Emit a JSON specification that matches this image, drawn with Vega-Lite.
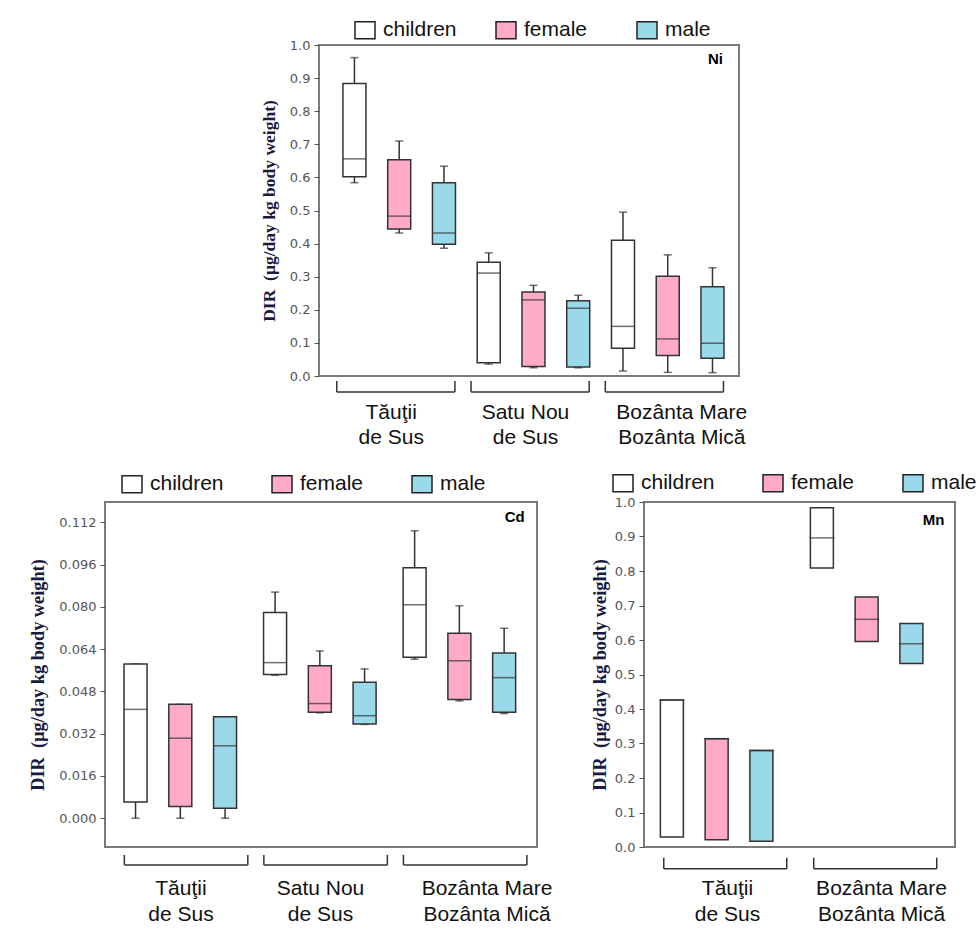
{
  "$schema": "https://vega.github.io/schema/vega-lite/v6.json",
  "background": "white",
  "padding": {"left": 27, "top": 18, "right": 0, "bottom": 0},
  "datasets": {
    "ni": [
      {"location": "Tăuţii\nde Sus", "group": "children", "min": 0.584, "q1": 0.602, "median": 0.656, "q3": 0.884, "max": 0.962},
      {"location": "Tăuţii\nde Sus", "group": "female", "min": 0.432, "q1": 0.444, "median": 0.483, "q3": 0.653, "max": 0.710},
      {"location": "Tăuţii\nde Sus", "group": "male", "min": 0.386, "q1": 0.398, "median": 0.432, "q3": 0.584, "max": 0.634},
      {"location": "Satu Nou\nde Sus", "group": "children", "min": 0.036, "q1": 0.040, "median": 0.311, "q3": 0.344, "max": 0.372},
      {"location": "Satu Nou\nde Sus", "group": "female", "min": 0.025, "q1": 0.029, "median": 0.230, "q3": 0.254, "max": 0.274},
      {"location": "Satu Nou\nde Sus", "group": "male", "min": 0.025, "q1": 0.027, "median": 0.205, "q3": 0.227, "max": 0.244},
      {"location": "Bozânta Mare\nBozânta Mică", "group": "children", "min": 0.015, "q1": 0.084, "median": 0.150, "q3": 0.410, "max": 0.495},
      {"location": "Bozânta Mare\nBozânta Mică", "group": "female", "min": 0.011, "q1": 0.062, "median": 0.112, "q3": 0.301, "max": 0.366},
      {"location": "Bozânta Mare\nBozânta Mică", "group": "male", "min": 0.010, "q1": 0.054, "median": 0.099, "q3": 0.270, "max": 0.327}
    ],
    "cd": [
      {"location": "Tăuţii\nde Sus", "group": "children", "min": 0.0, "q1": 0.0061, "median": 0.0412, "q3": 0.0584, "max": 0.0584},
      {"location": "Tăuţii\nde Sus", "group": "female", "min": 0.0, "q1": 0.0044, "median": 0.0303, "q3": 0.0431, "max": 0.0431},
      {"location": "Tăuţii\nde Sus", "group": "male", "min": 0.0, "q1": 0.0038, "median": 0.0274, "q3": 0.0384, "max": 0.0384},
      {"location": "Satu Nou\nde Sus", "group": "children", "min": 0.0541, "q1": 0.0544, "median": 0.0589, "q3": 0.0779, "max": 0.0856},
      {"location": "Satu Nou\nde Sus", "group": "female", "min": 0.0399, "q1": 0.0401, "median": 0.0434, "q3": 0.0577, "max": 0.0633},
      {"location": "Satu Nou\nde Sus", "group": "male", "min": 0.0355, "q1": 0.0357, "median": 0.0388, "q3": 0.0515, "max": 0.0565},
      {"location": "Bozânta Mare\nBozânta Mică", "group": "children", "min": 0.0602, "q1": 0.0609, "median": 0.0808, "q3": 0.0948, "max": 0.1088},
      {"location": "Bozânta Mare\nBozânta Mică", "group": "female", "min": 0.0444, "q1": 0.0449, "median": 0.0596, "q3": 0.0700, "max": 0.0804},
      {"location": "Bozânta Mare\nBozânta Mică", "group": "male", "min": 0.0396, "q1": 0.0401, "median": 0.0532, "q3": 0.0625, "max": 0.0719}
    ],
    "mn": [
      {"location": "Tăuţii\nde Sus", "group": "children", "min": 0.029, "q1": 0.029, "median": 0.426, "q3": 0.426, "max": 0.426},
      {"location": "Tăuţii\nde Sus", "group": "female", "min": 0.021, "q1": 0.021, "median": 0.314, "q3": 0.314, "max": 0.314},
      {"location": "Tăuţii\nde Sus", "group": "male", "min": 0.017, "q1": 0.017, "median": 0.280, "q3": 0.280, "max": 0.280},
      {"location": "Bozânta Mare\nBozânta Mică", "group": "children", "min": 0.809, "q1": 0.809, "median": 0.896, "q3": 0.983, "max": 0.983},
      {"location": "Bozânta Mare\nBozânta Mică", "group": "female", "min": 0.596, "q1": 0.596, "median": 0.660, "q3": 0.725, "max": 0.725},
      {"location": "Bozânta Mare\nBozânta Mică", "group": "male", "min": 0.532, "q1": 0.532, "median": 0.589, "q3": 0.648, "max": 0.648}
    ],
    "locs3": [
      {"location": "Tăuţii\nde Sus"},
      {"location": "Satu Nou\nde Sus"},
      {"location": "Bozânta Mare\nBozânta Mică"}
    ],
    "locs2": [
      {"location": "Tăuţii\nde Sus"},
      {"location": "Bozânta Mare\nBozânta Mică"}
    ],
    "tagNi": [{"name": "Ni"}],
    "tagCd": [{"name": "Cd"}],
    "tagMn": [{"name": "Mn"}]
  },
  "config": {
    "view": {"stroke": "#7a7a7a", "strokeWidth": 2},
    "axis": {
      "labelFont": "DejaVu Sans", "labelFontSize": 13, "labelColor": "#555", "labelOverlap": false,
      "tickColor": "#555", "tickSize": 5, "labelPadding": 4, "grid": false,
      "titleFont": "Liberation Serif", "titleFontWeight": "bold", "titleFontSize": 17.5, "titleColor": "#1a1a40"
    },
    "axisY": {"labelOverlap": false, "labelSeparation": 0},
    "axisQuantitative": {"labelOverlap": false},
    "legend": {"rowPadding": 0}
  },
  "spacing": 23,
  "resolve": {"scale": {"color": "independent"}, "legend": {"color": "independent"}},
  "vconcat": [
    {
      "spacing": 0,
      "resolve": {"scale": {"color": "independent"}, "legend": {"color": "independent"}},
      "hconcat": [
        {
          "width": 154, "height": 10,
          "view": {"stroke": null},
          "data": {"values": []},
          "mark": {"type": "point", "opacity": 0},
          "encoding": {}
        },
        {
          "width": 420, "height": 331,
          "encoding": {
            "x": {"field": "location", "type": "nominal", "sort": null,
              "scale": {"domain": ["Tăuţii\nde Sus", "Satu Nou\nde Sus", "Bozânta Mare\nBozânta Mică"], "paddingInner": 0, "paddingOuter": 0.064, "align": 0.76},
              "axis": {"title": null, "domain": false, "ticks": false, "tickSize": 0, "labelAngle": 0, "labelPadding": 25, "labelBaseline": "top", "labelFont": "Liberation Sans", "labelFontSize": 21, "labelColor": "#111", "labelLineHeight": 25, "labelOverlap": false, "labelExpr": "split(datum.label, '\\n')",
                "labelOffset": {"condition": {"test": "indexof(datum.value, 'Boz') === 0", "value": 14}, "value": -8}}}
          },
          "layer": [
            {
              "data": {"name": "ni"},
              "mark": {"type": "rule", "stroke": "#333", "strokeWidth": 1.5},
              "encoding": {
                "xOffset": {"field": "group", "type": "nominal", "scale": {"domain": ["children", "female", "male"], "paddingInner": 0.486, "paddingOuter": 0.243}},
                "y": {"field": "min", "type": "quantitative", "scale": {"domain": [0, 1], "nice": false, "zero": false},
                  "axis": {"title": "DIR\u00a0\u00a0(µg/day kg body weight)", "domain": false, "labelOverlap": false, "values": [0, 0.1, 0.2, 0.3, 0.4, 0.5, 0.6, 0.7, 0.8, 0.9, 1.0], "format": ".1f", "titlePadding": 11}},
                "y2": {"field": "max"}
              }
            },
            {
              "data": {"name": "ni"},
              "mark": {"type": "tick", "color": "#333", "thickness": 1.5, "size": 8},
              "encoding": {
                "xOffset": {"field": "group", "type": "nominal"},
                "y": {"field": "max", "type": "quantitative", "scale": {"domain": [0, 1], "nice": false, "zero": false},
                  "axis": {"title": "DIR\u00a0\u00a0(µg/day kg body weight)", "domain": false, "labelOverlap": false, "values": [0, 0.1, 0.2, 0.3, 0.4, 0.5, 0.6, 0.7, 0.8, 0.9, 1.0], "format": ".1f", "titlePadding": 11}}
              }
            },
            {
              "data": {"name": "ni"},
              "mark": {"type": "tick", "color": "#333", "thickness": 1.5, "size": 8},
              "encoding": {
                "xOffset": {"field": "group", "type": "nominal"},
                "y": {"field": "min", "type": "quantitative", "scale": {"domain": [0, 1], "nice": false, "zero": false},
                  "axis": {"title": "DIR\u00a0\u00a0(µg/day kg body weight)", "domain": false, "labelOverlap": false, "values": [0, 0.1, 0.2, 0.3, 0.4, 0.5, 0.6, 0.7, 0.8, 0.9, 1.0], "format": ".1f", "titlePadding": 11}}
              }
            },
            {
              "data": {"name": "ni"},
              "mark": {"type": "bar", "stroke": "#333", "strokeWidth": 1.5},
              "encoding": {
                "xOffset": {"field": "group", "type": "nominal"},
                "y": {"field": "q1", "type": "quantitative", "scale": {"domain": [0, 1], "nice": false, "zero": false},
                  "axis": {"title": "DIR\u00a0\u00a0(µg/day kg body weight)", "domain": false, "labelOverlap": false, "values": [0, 0.1, 0.2, 0.3, 0.4, 0.5, 0.6, 0.7, 0.8, 0.9, 1.0], "format": ".1f", "titlePadding": 11}},
                "y2": {"field": "q3"},
                "color": {"field": "group", "type": "nominal",
                  "scale": {"domain": ["children", "female", "male"], "range": ["#ffffff", "#ffaac9", "#99d9ea"]},
                  "legend": {"orient": "none", "legendX": 35, "legendY": -26, "direction": "horizontal", "columns": 3, "title": null,
                    "symbolType": "M-1,-0.85H1V0.85H-1Z", "symbolSize": 400, "symbolStrokeColor": "#222", "symbolStrokeWidth": 1.5,
                    "labelFont": "Liberation Sans", "labelFontSize": 21, "labelColor": "#111", "labelOffset": 7, "columnPadding": 36, "gridAlign": "all"}}
              }
            },
            {
              "data": {"name": "ni"},
              "mark": {"type": "tick", "color": "#333", "thickness": 1.5, "size": 23},
              "encoding": {
                "xOffset": {"field": "group", "type": "nominal"},
                "y": {"field": "median", "type": "quantitative", "scale": {"domain": [0, 1], "nice": false, "zero": false},
                  "axis": {"title": "DIR\u00a0\u00a0(µg/day kg body weight)", "domain": false, "labelOverlap": false, "values": [0, 0.1, 0.2, 0.3, 0.4, 0.5, 0.6, 0.7, 0.8, 0.9, 1.0], "format": ".1f", "titlePadding": 11}}
              }
            },
            {
              "data": {"name": "locs3"},
              "mark": {"type": "rule", "stroke": "#333", "strokeWidth": 1.5},
              "encoding": {
                "x": {"field": "location", "type": "nominal", "bandPosition": 0.035},
                "x2": {"field": "location", "bandPosition": 0.915},
                "y": {"datum": -0.048, "type": "quantitative", "scale": {"domain": [0, 1], "nice": false, "zero": false},
                  "axis": {"title": "DIR\u00a0\u00a0(µg/day kg body weight)", "domain": false, "labelOverlap": false, "values": [0, 0.1, 0.2, 0.3, 0.4, 0.5, 0.6, 0.7, 0.8, 0.9, 1.0], "format": ".1f", "titlePadding": 11}}
              }
            },
            {
              "data": {"name": "locs3"},
              "mark": {"type": "rule", "stroke": "#333", "strokeWidth": 1.5},
              "encoding": {
                "x": {"field": "location", "type": "nominal", "bandPosition": 0.035},
                "y": {"datum": -0.015, "type": "quantitative", "scale": {"domain": [0, 1], "nice": false, "zero": false},
                  "axis": {"title": "DIR\u00a0\u00a0(µg/day kg body weight)", "domain": false, "labelOverlap": false, "values": [0, 0.1, 0.2, 0.3, 0.4, 0.5, 0.6, 0.7, 0.8, 0.9, 1.0], "format": ".1f", "titlePadding": 11}},
                "y2": {"datum": -0.048}
              }
            },
            {
              "data": {"name": "locs3"},
              "mark": {"type": "rule", "stroke": "#333", "strokeWidth": 1.5},
              "encoding": {
                "x": {"field": "location", "type": "nominal", "bandPosition": 0.915},
                "y": {"datum": -0.015, "type": "quantitative", "scale": {"domain": [0, 1], "nice": false, "zero": false},
                  "axis": {"title": "DIR\u00a0\u00a0(µg/day kg body weight)", "domain": false, "labelOverlap": false, "values": [0, 0.1, 0.2, 0.3, 0.4, 0.5, 0.6, 0.7, 0.8, 0.9, 1.0], "format": ".1f", "titlePadding": 11}},
                "y2": {"datum": -0.048}
              }
            },
            {
              "data": {"name": "tagNi"},
              "mark": {"type": "text", "align": "right", "baseline": "top", "font": "Liberation Sans", "fontWeight": "bold", "fontSize": 15, "color": "#000", "dx": -12},
              "encoding": {
                "x": {"datum": "Bozânta Mare\nBozânta Mică", "type": "nominal", "bandPosition": 1},
                "y": {"datum": 0.978, "type": "quantitative", "scale": {"domain": [0, 1], "nice": false, "zero": false},
                  "axis": {"title": "DIR\u00a0\u00a0(µg/day kg body weight)", "domain": false, "labelOverlap": false, "values": [0, 0.1, 0.2, 0.3, 0.4, 0.5, 0.6, 0.7, 0.8, 0.9, 1.0], "format": ".1f", "titlePadding": 11}},
                "text": {"field": "name"}
              }
            }
          ]
        }
      ]
    },
    {
      "spacing": 36,
      "resolve": {"scale": {"color": "independent"}, "legend": {"color": "independent"}},
      "hconcat": [
        {
          "width": 432, "height": 345,
          "encoding": {
            "x": {"field": "location", "type": "nominal", "sort": null,
              "scale": {"domain": ["Tăuţii\nde Sus", "Satu Nou\nde Sus", "Bozânta Mare\nBozânta Mică"], "paddingInner": 0, "paddingOuter": 0.048, "align": 0.61},
              "axis": {"title": null, "domain": false, "ticks": false, "tickSize": 0, "labelAngle": 0, "labelPadding": 30, "labelBaseline": "top", "labelFont": "Liberation Sans", "labelFontSize": 21, "labelColor": "#111", "labelLineHeight": 26, "labelOverlap": false, "labelExpr": "split(datum.label, '\\n')",
                "labelOffset": {"condition": {"test": "indexof(datum.value, 'Boz') === 0", "value": 25}, "value": -2}}}
          },
          "layer": [
            {
              "data": {"name": "cd"},
              "mark": {"type": "rule", "stroke": "#333", "strokeWidth": 1.5},
              "encoding": {
                "xOffset": {"field": "group", "type": "nominal", "scale": {"domain": ["children", "female", "male"], "paddingInner": 0.495, "paddingOuter": 0.2475}},
                "y": {"field": "min", "type": "quantitative", "scale": {"domain": [-0.0109, 0.1197], "nice": false, "zero": false},
                  "axis": {"title": "DIR\u00a0\u00a0(µg/day kg body weight)", "titleFontSize": 18.3, "domain": false, "labelOverlap": false, "values": [0, 0.016, 0.032, 0.048, 0.064, 0.08, 0.096, 0.112], "format": ".3f", "titlePadding": 11}},
                "y2": {"field": "max"}
              }
            },
            {
              "data": {"name": "cd"},
              "mark": {"type": "tick", "color": "#333", "thickness": 1.5, "size": 8},
              "encoding": {
                "xOffset": {"field": "group", "type": "nominal"},
                "y": {"field": "max", "type": "quantitative", "scale": {"domain": [-0.0109, 0.1197], "nice": false, "zero": false},
                  "axis": {"title": "DIR\u00a0\u00a0(µg/day kg body weight)", "titleFontSize": 18.3, "domain": false, "labelOverlap": false, "values": [0, 0.016, 0.032, 0.048, 0.064, 0.08, 0.096, 0.112], "format": ".3f", "titlePadding": 11}}
              }
            },
            {
              "data": {"name": "cd"},
              "mark": {"type": "tick", "color": "#333", "thickness": 1.5, "size": 8},
              "encoding": {
                "xOffset": {"field": "group", "type": "nominal"},
                "y": {"field": "min", "type": "quantitative", "scale": {"domain": [-0.0109, 0.1197], "nice": false, "zero": false},
                  "axis": {"title": "DIR\u00a0\u00a0(µg/day kg body weight)", "titleFontSize": 18.3, "domain": false, "labelOverlap": false, "values": [0, 0.016, 0.032, 0.048, 0.064, 0.08, 0.096, 0.112], "format": ".3f", "titlePadding": 11}}
              }
            },
            {
              "data": {"name": "cd"},
              "mark": {"type": "bar", "stroke": "#333", "strokeWidth": 1.5},
              "encoding": {
                "xOffset": {"field": "group", "type": "nominal"},
                "y": {"field": "q1", "type": "quantitative", "scale": {"domain": [-0.0109, 0.1197], "nice": false, "zero": false},
                  "axis": {"title": "DIR\u00a0\u00a0(µg/day kg body weight)", "titleFontSize": 18.3, "domain": false, "labelOverlap": false, "values": [0, 0.016, 0.032, 0.048, 0.064, 0.08, 0.096, 0.112], "format": ".3f", "titlePadding": 11}},
                "y2": {"field": "q3"},
                "color": {"field": "group", "type": "nominal",
                  "scale": {"domain": ["children", "female", "male"], "range": ["#ffffff", "#ffaac9", "#99d9ea"]},
                  "legend": {"orient": "none", "legendX": 16, "legendY": -29, "direction": "horizontal", "columns": 3, "title": null,
                    "symbolType": "M-1,-0.85H1V0.85H-1Z", "symbolSize": 400, "symbolStrokeColor": "#222", "symbolStrokeWidth": 1.5,
                    "labelFont": "Liberation Sans", "labelFontSize": 21, "labelColor": "#111", "labelOffset": 7, "columnPadding": 45, "gridAlign": "each"}}
              }
            },
            {
              "data": {"name": "cd"},
              "mark": {"type": "tick", "color": "#333", "thickness": 1.5, "size": 23.5},
              "encoding": {
                "xOffset": {"field": "group", "type": "nominal"},
                "y": {"field": "median", "type": "quantitative", "scale": {"domain": [-0.0109, 0.1197], "nice": false, "zero": false},
                  "axis": {"title": "DIR\u00a0\u00a0(µg/day kg body weight)", "titleFontSize": 18.3, "domain": false, "labelOverlap": false, "values": [0, 0.016, 0.032, 0.048, 0.064, 0.08, 0.096, 0.112], "format": ".3f", "titlePadding": 11}}
              }
            },
            {
              "data": {"name": "locs3"},
              "mark": {"type": "rule", "stroke": "#333", "strokeWidth": 1.5},
              "encoding": {
                "x": {"field": "location", "type": "nominal", "bandPosition": 0.08},
                "x2": {"field": "location", "bandPosition": 0.965},
                "y": {"datum": -0.0177, "type": "quantitative", "scale": {"domain": [-0.0109, 0.1197], "nice": false, "zero": false},
                  "axis": {"title": "DIR\u00a0\u00a0(µg/day kg body weight)", "titleFontSize": 18.3, "domain": false, "labelOverlap": false, "values": [0, 0.016, 0.032, 0.048, 0.064, 0.08, 0.096, 0.112], "format": ".3f", "titlePadding": 11}}
              }
            },
            {
              "data": {"name": "locs3"},
              "mark": {"type": "rule", "stroke": "#333", "strokeWidth": 1.5},
              "encoding": {
                "x": {"field": "location", "type": "nominal", "bandPosition": 0.08},
                "y": {"datum": -0.0139, "type": "quantitative", "scale": {"domain": [-0.0109, 0.1197], "nice": false, "zero": false},
                  "axis": {"title": "DIR\u00a0\u00a0(µg/day kg body weight)", "titleFontSize": 18.3, "domain": false, "labelOverlap": false, "values": [0, 0.016, 0.032, 0.048, 0.064, 0.08, 0.096, 0.112], "format": ".3f", "titlePadding": 11}},
                "y2": {"datum": -0.0177}
              }
            },
            {
              "data": {"name": "locs3"},
              "mark": {"type": "rule", "stroke": "#333", "strokeWidth": 1.5},
              "encoding": {
                "x": {"field": "location", "type": "nominal", "bandPosition": 0.965},
                "y": {"datum": -0.0139, "type": "quantitative", "scale": {"domain": [-0.0109, 0.1197], "nice": false, "zero": false},
                  "axis": {"title": "DIR\u00a0\u00a0(µg/day kg body weight)", "titleFontSize": 18.3, "domain": false, "labelOverlap": false, "values": [0, 0.016, 0.032, 0.048, 0.064, 0.08, 0.096, 0.112], "format": ".3f", "titlePadding": 11}},
                "y2": {"datum": -0.0177}
              }
            },
            {
              "data": {"name": "tagCd"},
              "mark": {"type": "text", "align": "right", "baseline": "top", "font": "Liberation Sans", "fontWeight": "bold", "fontSize": 15, "color": "#000", "dx": -7},
              "encoding": {
                "x": {"datum": "Bozânta Mare\nBozânta Mică", "type": "nominal", "bandPosition": 1},
                "y": {"datum": 0.1165, "type": "quantitative", "scale": {"domain": [-0.0109, 0.1197], "nice": false, "zero": false},
                  "axis": {"title": "DIR\u00a0\u00a0(µg/day kg body weight)", "titleFontSize": 18.3, "domain": false, "labelOverlap": false, "values": [0, 0.016, 0.032, 0.048, 0.064, 0.08, 0.096, 0.112], "format": ".3f", "titlePadding": 11}},
                "text": {"field": "name"}
              }
            }
          ]
        },
        {
          "width": 311, "height": 345,
          "encoding": {
            "x": {"field": "location", "type": "nominal", "sort": null,
              "scale": {"domain": ["Tăuţii\nde Sus", "Bozânta Mare\nBozânta Mică"], "paddingInner": 0, "paddingOuter": 0.0367, "align": 0.5},
              "axis": {"title": null, "domain": false, "ticks": false, "tickSize": 0, "labelAngle": 0, "labelPadding": 30, "labelBaseline": "top", "labelFont": "Liberation Sans", "labelFontSize": 21, "labelColor": "#111", "labelLineHeight": 26, "labelOverlap": false, "labelExpr": "split(datum.label, '\\n')",
                "labelOffset": {"condition": {"test": "indexof(datum.value, 'Boz') === 0", "value": 7}, "value": 3}}}
          },
          "layer": [
            {
              "data": {"name": "mn"},
              "mark": {"type": "rule", "stroke": "#333", "strokeWidth": 1.5},
              "encoding": {
                "xOffset": {"field": "group", "type": "nominal", "scale": {"domain": ["children", "female", "male"], "paddingInner": 0.5, "paddingOuter": 0.25}},
                "y": {"field": "min", "type": "quantitative", "scale": {"domain": [0, 1], "nice": false, "zero": false},
                  "axis": {"title": "DIR\u00a0\u00a0(µg/day kg body weight)", "titleFontSize": 18.3, "domain": false, "labelOverlap": false, "values": [0, 0.1, 0.2, 0.3, 0.4, 0.5, 0.6, 0.7, 0.8, 0.9, 1.0], "format": ".1f", "titlePadding": 5}},
                "y2": {"field": "max"}
              }
            },
            {
              "data": {"name": "mn"},
              "mark": {"type": "bar", "stroke": "#333", "strokeWidth": 1.5},
              "encoding": {
                "xOffset": {"field": "group", "type": "nominal"},
                "y": {"field": "q1", "type": "quantitative", "scale": {"domain": [0, 1], "nice": false, "zero": false},
                  "axis": {"title": "DIR\u00a0\u00a0(µg/day kg body weight)", "titleFontSize": 18.3, "domain": false, "labelOverlap": false, "values": [0, 0.1, 0.2, 0.3, 0.4, 0.5, 0.6, 0.7, 0.8, 0.9, 1.0], "format": ".1f", "titlePadding": 5}},
                "y2": {"field": "q3"},
                "color": {"field": "group", "type": "nominal",
                  "scale": {"domain": ["children", "female", "male"], "range": ["#ffffff", "#ffaac9", "#99d9ea"]},
                  "legend": {"orient": "none", "legendX": -32, "legendY": -30, "direction": "horizontal", "columns": 3, "title": null,
                    "symbolType": "M-1,-0.85H1V0.85H-1Z", "symbolSize": 400, "symbolStrokeColor": "#222", "symbolStrokeWidth": 1.5,
                    "labelFont": "Liberation Sans", "labelFontSize": 21, "labelColor": "#111", "labelOffset": 7, "columnPadding": 45, "gridAlign": "each"}}
              }
            },
            {
              "data": {"name": "mn"},
              "mark": {"type": "tick", "color": "#333", "thickness": 1.5, "size": 25},
              "encoding": {
                "xOffset": {"field": "group", "type": "nominal"},
                "y": {"field": "median", "type": "quantitative", "scale": {"domain": [0, 1], "nice": false, "zero": false},
                  "axis": {"title": "DIR\u00a0\u00a0(µg/day kg body weight)", "titleFontSize": 18.3, "domain": false, "labelOverlap": false, "values": [0, 0.1, 0.2, 0.3, 0.4, 0.5, 0.6, 0.7, 0.8, 0.9, 1.0], "format": ".1f", "titlePadding": 5}}
              }
            },
            {
              "data": {"name": "locs2"},
              "mark": {"type": "rule", "stroke": "#333", "strokeWidth": 1.5},
              "encoding": {
                "x": {"field": "location", "type": "nominal", "bandPosition": 0.095},
                "x2": {"field": "location", "bandPosition": 0.915},
                "y": {"datum": -0.063, "type": "quantitative", "scale": {"domain": [0, 1], "nice": false, "zero": false},
                  "axis": {"title": "DIR\u00a0\u00a0(µg/day kg body weight)", "titleFontSize": 18.3, "domain": false, "labelOverlap": false, "values": [0, 0.1, 0.2, 0.3, 0.4, 0.5, 0.6, 0.7, 0.8, 0.9, 1.0], "format": ".1f", "titlePadding": 5}}
              }
            },
            {
              "data": {"name": "locs2"},
              "mark": {"type": "rule", "stroke": "#333", "strokeWidth": 1.5},
              "encoding": {
                "x": {"field": "location", "type": "nominal", "bandPosition": 0.095},
                "y": {"datum": -0.031, "type": "quantitative", "scale": {"domain": [0, 1], "nice": false, "zero": false},
                  "axis": {"title": "DIR\u00a0\u00a0(µg/day kg body weight)", "titleFontSize": 18.3, "domain": false, "labelOverlap": false, "values": [0, 0.1, 0.2, 0.3, 0.4, 0.5, 0.6, 0.7, 0.8, 0.9, 1.0], "format": ".1f", "titlePadding": 5}},
                "y2": {"datum": -0.063}
              }
            },
            {
              "data": {"name": "locs2"},
              "mark": {"type": "rule", "stroke": "#333", "strokeWidth": 1.5},
              "encoding": {
                "x": {"field": "location", "type": "nominal", "bandPosition": 0.915},
                "y": {"datum": -0.031, "type": "quantitative", "scale": {"domain": [0, 1], "nice": false, "zero": false},
                  "axis": {"title": "DIR\u00a0\u00a0(µg/day kg body weight)", "titleFontSize": 18.3, "domain": false, "labelOverlap": false, "values": [0, 0.1, 0.2, 0.3, 0.4, 0.5, 0.6, 0.7, 0.8, 0.9, 1.0], "format": ".1f", "titlePadding": 5}},
                "y2": {"datum": -0.063}
              }
            },
            {
              "data": {"name": "tagMn"},
              "mark": {"type": "text", "align": "right", "baseline": "top", "font": "Liberation Sans", "fontWeight": "bold", "fontSize": 15, "color": "#000", "dx": -5},
              "encoding": {
                "x": {"datum": "Bozânta Mare\nBozânta Mică", "type": "nominal", "bandPosition": 1},
                "y": {"datum": 0.968, "type": "quantitative", "scale": {"domain": [0, 1], "nice": false, "zero": false},
                  "axis": {"title": "DIR\u00a0\u00a0(µg/day kg body weight)", "titleFontSize": 18.3, "domain": false, "labelOverlap": false, "values": [0, 0.1, 0.2, 0.3, 0.4, 0.5, 0.6, 0.7, 0.8, 0.9, 1.0], "format": ".1f", "titlePadding": 5}},
                "text": {"field": "name"}
              }
            }
          ]
        }
      ]
    }
  ]
}
